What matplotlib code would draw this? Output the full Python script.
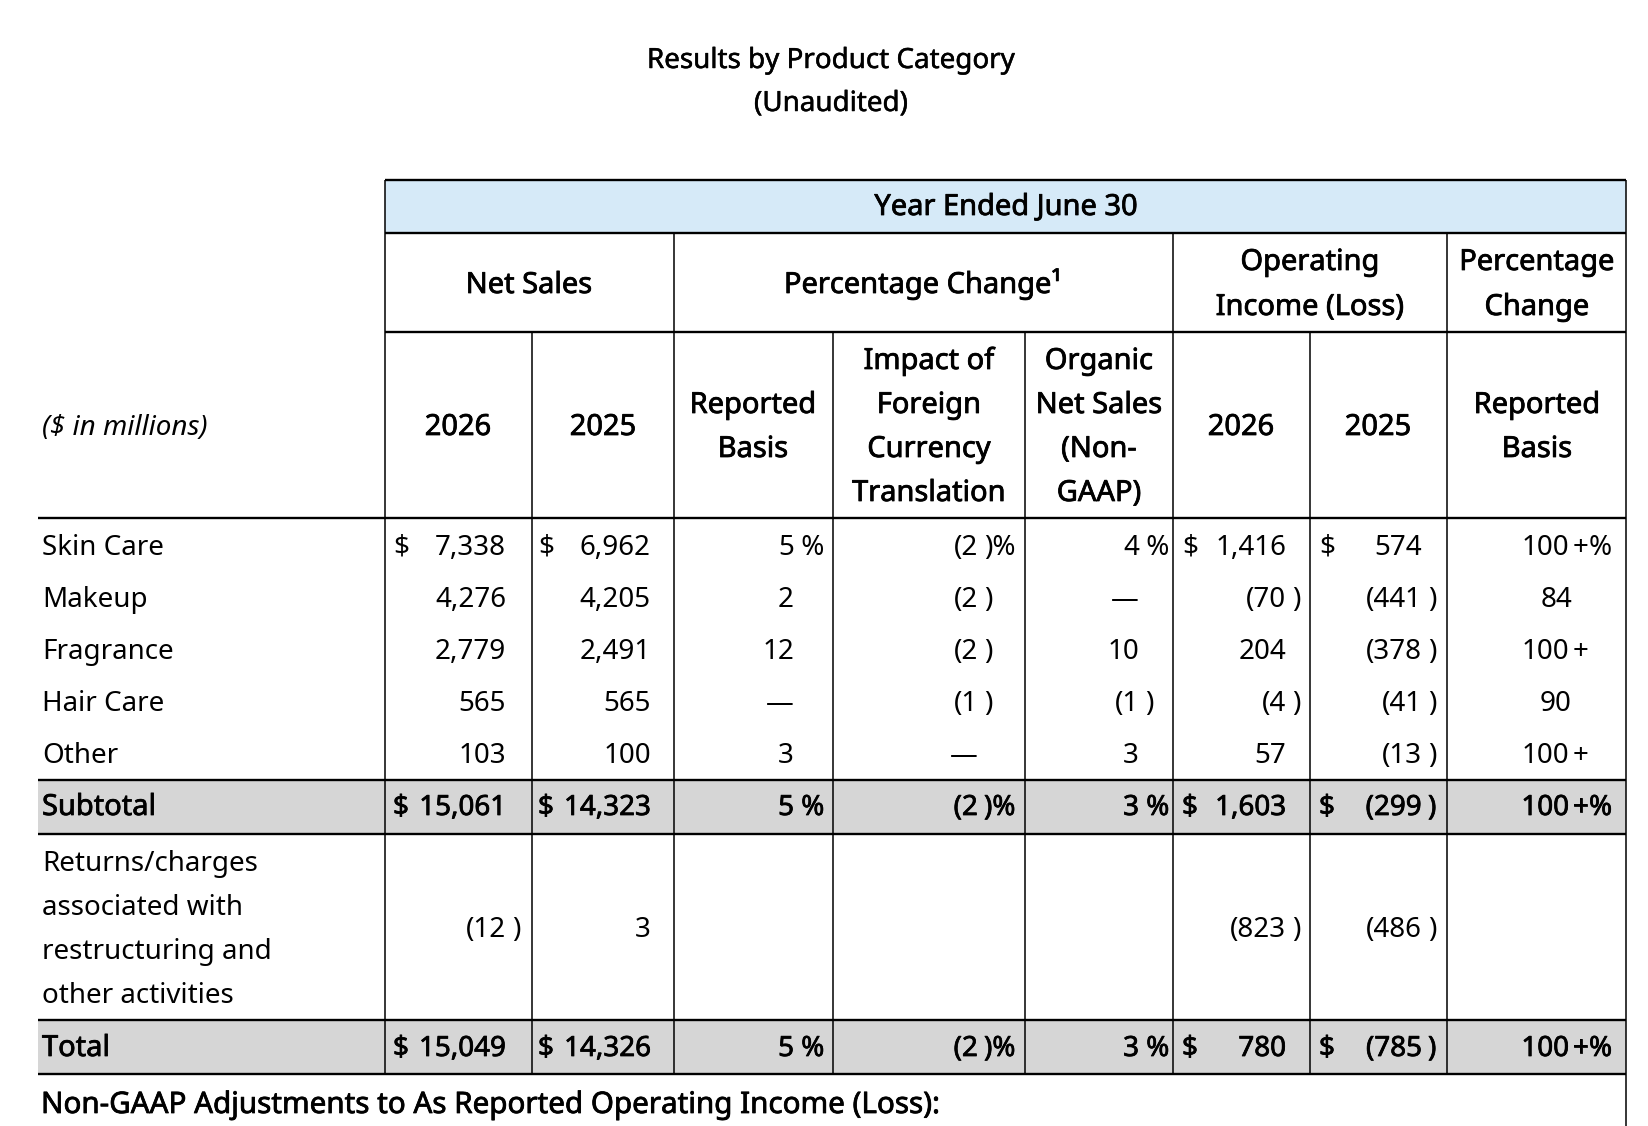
import matplotlib.pyplot as plt
import matplotlib.patheffects as pe
from matplotlib.patches import Rectangle

plt.rcParams['font.family'] = ['Noto Sans', 'DejaVu Sans']

# data ($ in millions, percentages)
categories = ["Skin Care", "Makeup", "Fragrance", "Hair Care", "Other"]
net_2026 = [7338, 4276, 2779, 565, 103]
net_2025 = [6962, 4205, 2491, 565, 100]
pct_reported = [5, 2, 12, 0, 3]
pct_fx = [-2, -2, -2, -1, 0]
pct_organic = [4, 0, 10, -1, 3]
opinc_2026 = [1416, -70, 204, -4, 57]
opinc_2025 = [574, -441, -378, -41, -13]
opinc_pct = [100, 84, 100, 90, 100]
opinc_pct_over = [True, False, True, False, True]

subtotal = [15061, 14323, 5, -2, 3, 1603, -299, 100]
returns_label = ["Returns/charges", "associated with", "restructuring and", "other activities"]
returns_net = [-12, 3]
returns_opinc = [-823, -486]
total = [15049, 14326, 5, -2, 3, 780, -785, 100]

FS = 20
HFS = 20.9
fig = plt.figure(figsize=(16.48, 11.26), dpi=100)
ax = fig.add_axes([0, 0, 1, 1])
ax.set_xlim(0, 1648)
ax.set_ylim(1126, 0)
ax.axis('off')

# the installed Noto Sans has no separate semibold face, so thicken with a stroke
HEAVY = [pe.withStroke(linewidth=0.55, foreground='black')]
MEDIUM = [pe.withStroke(linewidth=0.35, foreground='black')]


def txt(x, y, s, ha='left', heavy=None, style='normal', size=FS):
    t = ax.text(x, y, s, ha=ha, va='baseline', fontsize=size,
                fontstyle=style, color='black')
    if heavy is not None:
        t.set_path_effects(heavy)


def head(x, y, s, ha='center', size=HFS):
    txt(x, y, s, ha=ha, heavy=HEAVY, size=size)


# title
txt(831, 68, "Results by Product Category", ha='center', heavy=MEDIUM)
txt(831, 111, "(Unaudited)", ha='center', heavy=MEDIUM)

# backgrounds
ax.add_patch(Rectangle((385, 180), 1241, 53, color='#d6eaf8', lw=0))
for top in (780, 1020):
    ax.add_patch(Rectangle((38, top), 1588, 54, color='#d6d6d6', lw=0))

# grid lines
HW, VW = 1.7, 1.1
ax.hlines([180, 233, 332], 385, 1626, color='black', lw=HW)
ax.hlines([518, 780, 834, 1020, 1074], 38, 1626, color='black', lw=HW)
ax.vlines([385, 674, 1173, 1447], [180, 233, 233, 233], 1074, color='black', lw=VW)
ax.vlines([532, 833, 1025, 1310], 332, 1074, color='black', lw=VW)
ax.vlines(1626, 180, 1126, color='black', lw=VW)

# header text
head(1006, 215, "Year Ended June 30")
head(529, 293, "Net Sales")
head(923, 293, "Percentage Change\u00b9")
head(1310, 270, "Operating")
head(1310, 315, "Income (Loss)")
head(1537, 270, "Percentage")
head(1537, 315, "Change")
txt(42, 435, "($ in millions)", style='italic')
for cx, yr in ((458, "2026"), (603, "2025"), (1241, "2026"), (1378, "2025")):
    head(cx, 435, yr)
for cx in (753, 1537):
    head(cx, 413, "Reported")
    head(cx, 457, "Basis")
for i, s in enumerate(["Impact of", "Foreign", "Currency", "Translation"]):
    head(929, 369 + 44 * i, s)
for i, s in enumerate(["Organic", "Net Sales", "(Non-", "GAAP)"]):
    head(1099, 369 + 44 * i, s)

# value columns: (dollar x, number right edge, is percent)
cols = [(393, 506, False), (538, 651, False), (None, 794, True), (None, 978, True),
        (None, 1139, True), (1182, 1286, False), (1319, 1422, False)]


def fmt(v):
    if v == 0:
        return "\u2014"
    s = f"{abs(v):,}"
    return "(" + s if v < 0 else s


def put(ci, v, y, dollar, pct, heavy=None):
    dx, right, is_pct = cols[ci]
    txt(right, y, fmt(v), ha='right', heavy=heavy)
    suf = ")" if v < 0 else ""
    if is_pct and pct:
        suf += "%" if v < 0 else " %"
    if suf:
        txt(right + (6 if v < 0 else 0), y, suf, heavy=heavy)
    if dollar and dx is not None:
        txt(dx, y, "$", heavy=heavy)


def put_pct(v, over, y, pct, heavy=None):
    if over:
        txt(1569, y, str(v), ha='right', heavy=heavy)
        txt(1573, y, "+", heavy=heavy)
        if pct:
            txt(1589, y, "%", heavy=heavy)
    else:
        txt(1572, y, str(v), ha='right', heavy=heavy)


base = [555, 607, 659, 711, 763]
for i, cat in enumerate(categories):
    y = base[i]
    first = i == 0
    txt(42, y, cat)
    vals = [net_2026[i], net_2025[i], pct_reported[i], pct_fx[i], pct_organic[i],
            opinc_2026[i], opinc_2025[i]]
    for ci, v in enumerate(vals):
        put(ci, v, y, first, first)
    put_pct(opinc_pct[i], opinc_pct_over[i], y, first)

for label, row, y in (("Subtotal", subtotal, 815), ("Total", total, 1056)):
    head(42, y, label, ha='left')
    for ci, v in enumerate(row[:7]):
        put(ci, v, y, True, True, heavy=HEAVY)
    put_pct(row[7], True, y, True, heavy=HEAVY)

for i, s in enumerate(returns_label):
    txt(42, 871 + 44 * i, s)
put(0, returns_net[0], 937, False, False)
put(1, returns_net[1], 937, False, False)
put(5, returns_opinc[0], 937, False, False)
put(6, returns_opinc[1], 937, False, False)

head(41, 1113, "Non-GAAP Adjustments to As Reported Operating Income (Loss):", ha='left', size=21.3)

fig.savefig("out.png", dpi=100)
